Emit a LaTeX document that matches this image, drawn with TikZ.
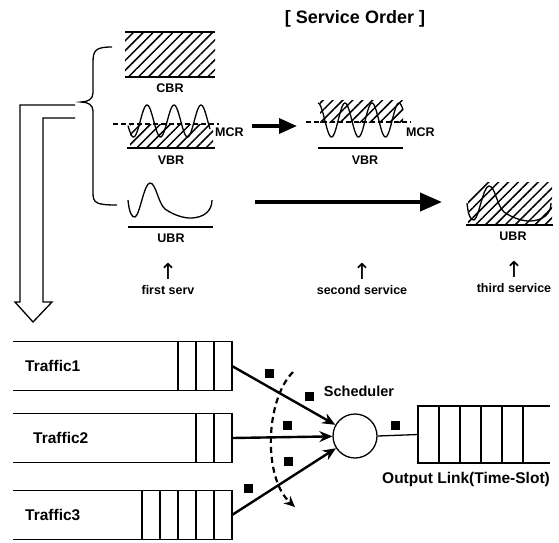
\documentclass[tikz,border=0pt]{standalone}
\usepackage{fontspec}
\setmainfont{Liberation Sans}
\newfontfamily\symfont{DejaVu Sans}
\usetikzlibrary{arrows.meta, patterns.meta, positioning}

\tikzset{
  ubrcurve/.pic={
    \draw[line width=1.3pt] (0,17) .. controls (1,29) and (4,35) .. (7,34)
      .. controls (12,32) and (16,0) .. (22,0)
      .. controls (28,0) and (30,20) .. (37,26)
      .. controls (47,33) and (57,35) .. (62,35)
      .. controls (77,35) and (84,27) .. (84,17);
  }
}

\begin{document}
\begin{tikzpicture}[x=1pt, y=-1pt,
    lbl/.style={font=\bfseries\fontsize{12.5}{14}\selectfont, inner sep=0pt},
    big/.style={font=\bfseries\fontsize{15.5}{17}\selectfont, inner sep=0pt},
    uparr/.style={font=\symfont\fontsize{22}{22}\selectfont, inner sep=0pt},
    hatch/.style={pattern={Lines[angle=45,distance=7pt,line width=1.5pt]}},
    base/.style={line width=1.6pt},
    wave/.style={line width=1.3pt},
    mcr/.style={line width=1.4pt, dash pattern=on 5pt off 3pt},
    fat/.style={line width=3.5pt, -{Triangle[length=18pt,width=15pt]}},
    queue/.style={minimum height=49pt, inner sep=0pt, outer sep=0pt},
    qline/.style={line width=1.3pt},
    sched/.style={circle, draw, line width=1.3pt, minimum size=44pt, inner sep=0pt},
    flow/.style={line width=2.4pt, -{Stealth[length=13pt,width=11pt]}},
    sweep/.style={line width=2.2pt, dash pattern=on 6pt off 4pt, -{Stealth[length=11pt,width=10pt]}},
    pkt/.style={fill=black, minimum size=9pt, inner sep=0pt}
  ]
  \useasboundingbox (0,0) rectangle (559,542);

  \node[font=\bfseries\fontsize{18}{20}\selectfont] (order) at (355,19) {[ Service Order ]};

  % CBR
  \path[hatch] (125,32) rectangle (215,77);
  \draw[base] (125,32) -- (215,32) (125,77) -- (215,77);
  \node[lbl] (cbr) at (170,88) {CBR};

  % VBR, first service
  \path[hatch] (130,124) rectangle (213,148);
  \draw[wave] plot[domain=128:210, samples=90] (\x, {121-16*sin((\x-147)/27*360+90)});
  \draw[mcr] (113,124) -- (219,124);
  \draw[base] (127,148) -- (215,148);
  \node[lbl, anchor=west] (mcr1) at (215,132) {MCR};
  \node[lbl] (vbr1) at (171,160) {VBR};

  % VBR, second service
  \path[hatch] (320,100) rectangle (403,122);
  \draw[wave] plot[domain=318:403, samples=90] (\x, {120-17*sin((\x-345)/27*360+90)});
  \draw[mcr] (306,122) -- (411,122);
  \draw[base] (318,148) -- (403,148);
  \node[lbl, anchor=west] (mcr2) at (406,132) {MCR};
  \node[lbl] (vbr2) at (365,160) {VBR};

  \coordinate (r1) at (252,126);
  \coordinate (r2) at (297,126);
  \draw[fat] (r1) -- (r2);

  % UBR
  \pic at (128,183) {ubrcurve};
  \draw[base] (128,227) -- (213,227);
  \node[lbl] (ubr1) at (171,238) {UBR};

  \path[hatch] (468,225) -- (468,195) -- (481,182) -- (552,182) -- (552,225) -- cycle;
  \pic at (467,186) {ubrcurve};
  \draw[base] (466,225) -- (553,225);
  \node[lbl] (ubr3) at (513,236) {UBR};

  \coordinate (u1) at (255,202);
  \coordinate (u2) at (442,202);
  \draw[fat, line width=4pt, -{Triangle[length=22pt,width=18pt]}] (u1) -- (u2);

  \node[lbl] (s1) at (168,290) {first serv};
  \node[lbl] (s2) at (362,290) {second service};
  \node[lbl] (s3) at (514,288) {third service};
  \node[uparr, above=6pt of s1] (a1) {↑};
  \node[uparr, above=6pt of s2] (a2) {↑};
  \node[uparr, above=6pt of s3] (a3) {↑};

  % brace and hollow arrow
  \draw[qline] (112,47) .. controls (96,47) and (93,50) .. (93,62) -- (93,93)
    .. controls (93,99) and (88,102) .. (81,102) .. controls (88,102) and (93,105) .. (93,111)
    -- (93,193) .. controls (93,203) and (96,205) .. (117,205);
  \draw[qline] (75,105) -- (20,105) -- (20,302) -- (15,302) -- (33,322)
    -- (52,302) -- (43,302) -- (43,118) -- (75,118);

  % queues
  \node[queue, minimum width=219pt] (q1) at (122.5,366) {};
  \node[queue, minimum width=219pt] (q2) at (122.5,438) {};
  \node[queue, minimum width=219pt] (q3) at (122.5,515) {};
  \foreach \q/\n in {q1/3, q2/2, q3/5} {
    \draw[qline] (\q.north west) -- (\q.north east) -- (\q.south east) -- (\q.south west);
    \foreach \i in {1,...,\n}
      \draw[qline] ([xshift={-\i*18pt}]\q.north east) -- ([xshift={-\i*18pt}]\q.south east);
  }
  \node[big, anchor=west] (t1) at ([xshift=12pt]q1.west) {Traffic1};
  \node[big, anchor=west] (t2) at ([xshift=20pt]q2.west) {Traffic2};
  \node[big, anchor=west] (t3) at ([xshift=12pt]q3.west) {Traffic3};

  \node[sched] (sch) at (355,436) {};
  \node[big, font=\bfseries\fontsize{14.5}{17}\selectfont] (schlbl) at (359,391) {Scheduler};

  \node[queue, minimum width=132pt, minimum height=57pt] (out) at (484,434.5) {};
  \draw[qline] (out.north east) -- (out.north west) -- (out.south west) -- (out.south east);
  \foreach \i in {1,...,5}
    \draw[qline] ([xshift={\i*21pt}]out.north west) -- ([xshift={\i*21pt}]out.south west);
  \draw[qline] (sch.east) -- (out.west);
  \node[big, below left=9pt and 0pt of out.south east] (outlbl) {Output Link(Time-Slot)};

  \draw[flow] (q1.east) -- (sch);
  \draw[flow] (q2.east) -- (sch);
  \draw[flow] (q3.east) -- (sch);

  \coordinate (swS) at (293,372);
  \coordinate (swE) at (295,507);
  \draw[sweep] (swS) .. controls (265,400) and (263,478) .. (swE);

  \foreach \p/\x/\y in {1/269/373, 2/309/396, 3/287/425, 4/288/461, 5/248/488, 6/395/425}
    \node[pkt] (p\p) at (\x,\y) {};
\end{tikzpicture}
\end{document}
